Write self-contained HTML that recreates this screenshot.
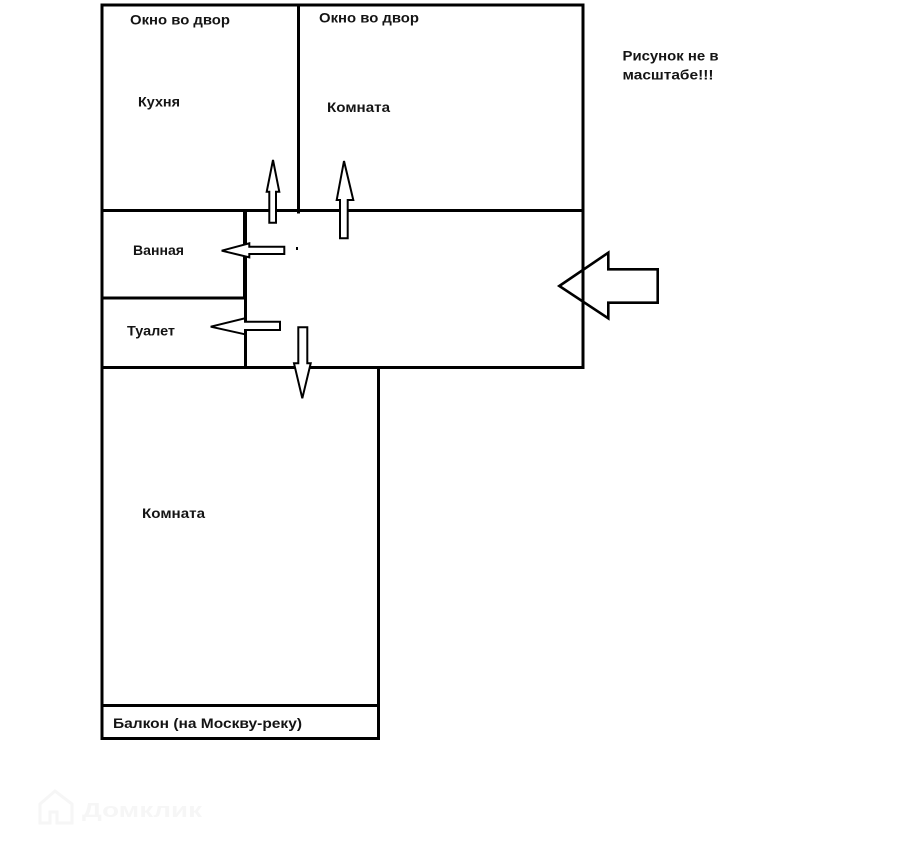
<!DOCTYPE html>
<html>
<head>
<meta charset="utf-8">
<style>
html,body{margin:0;padding:0;background:#fff;}
svg{display:block;}
text{font-family:"Liberation Sans","DejaVu Sans",sans-serif;font-weight:bold;font-size:13.5px;fill:#141414;}
</style>
</head>
<body>
<svg width="922" height="853" viewBox="0 0 922 853" xmlns="http://www.w3.org/2000/svg">
<rect x="0" y="0" width="922" height="853" fill="#fff"/>
<g stroke="#000" stroke-width="3" fill="none" stroke-linecap="square">
  <line x1="102" y1="5" x2="583" y2="5"/>
  <line x1="102" y1="5" x2="102" y2="738.5"/>
  <line x1="583" y1="5" x2="583" y2="367.5"/>
  <line x1="298.5" y1="5" x2="298.5" y2="212"/>
  <line x1="102" y1="210.5" x2="583" y2="210.5"/>
  <line x1="102" y1="298" x2="245" y2="298"/>
  <line x1="102" y1="367.5" x2="583" y2="367.5"/>
  <line x1="245.5" y1="298" x2="245.5" y2="367.5"/>
  <line x1="378.5" y1="367.5" x2="378.5" y2="738.5"/>
  <line x1="102" y1="705.5" x2="378.5" y2="705.5"/>
  <line x1="102" y1="738.5" x2="378.5" y2="738.5"/>
</g>
<rect x="243" y="209" width="4" height="89" fill="#000"/>
<rect x="296" y="247" width="2" height="3" fill="#000"/>

<g stroke="#000" stroke-width="2" fill="#fff" stroke-linejoin="miter">
  <polygon points="273,160 279.3,191.7 276,191.7 276,222.7 269.3,222.7 269.3,191.7 266.7,191.7"/>
  <polygon points="344,161 353.3,200 347.7,200 347.7,238.3 340,238.3 340,200 336.7,200"/>
  <polygon points="221.7,250.7 249.3,243.3 249.3,246.7 284.3,246.7 284.3,254 249.3,254 249.3,257.3"/>
  <polygon points="210.7,326.7 245,318.3 245,321.7 280,321.7 280,330 245,330 245,334.3"/>
  <polygon points="298.3,327.3 307.3,327.3 307.3,363.3 310.7,363.3 302.3,398.3 294,363.3 298.3,363.3"/>
</g>
<polygon points="559.3,286 608.3,252.7 608.3,269.3 657.7,269.3 657.7,302.7 608.3,302.7 608.3,318.3" stroke="#000" stroke-width="2.6" fill="none" stroke-linejoin="miter"/>

<text x="130" y="24.5" textLength="100" lengthAdjust="spacingAndGlyphs">Окно во двор</text>
<text x="319" y="22.5" textLength="100" lengthAdjust="spacingAndGlyphs">Окно во двор</text>
<text x="138" y="106.5" textLength="42" lengthAdjust="spacingAndGlyphs">Кухня</text>
<text x="327" y="112" textLength="63" lengthAdjust="spacingAndGlyphs">Комната</text>
<text x="133" y="255" textLength="51" lengthAdjust="spacingAndGlyphs">Ванная</text>
<text x="127" y="335.5" textLength="48" lengthAdjust="spacingAndGlyphs">Туалет</text>
<text x="142" y="518" textLength="63" lengthAdjust="spacingAndGlyphs">Комната</text>
<text x="113" y="728" textLength="189" lengthAdjust="spacingAndGlyphs">Балкон (на Москву-реку)</text>
<text x="622.5" y="60.5" textLength="96" lengthAdjust="spacingAndGlyphs">Рисунок не в</text>
<text x="622.5" y="79.3" textLength="91" lengthAdjust="spacingAndGlyphs">масштабе!!!</text>

<g>
  <path d="M40,804 L55,791 L72,804 L72,823 L57,823 L57,812 L50,812 L50,823 L40,823 Z" fill="none" stroke="#f6f6f6" stroke-width="3"/>
  <text x="82" y="817" style="font-size:20px;fill:#f6f6f6;" textLength="120" lengthAdjust="spacingAndGlyphs">Домклик</text>
</g>
</svg>
</body>
</html>
